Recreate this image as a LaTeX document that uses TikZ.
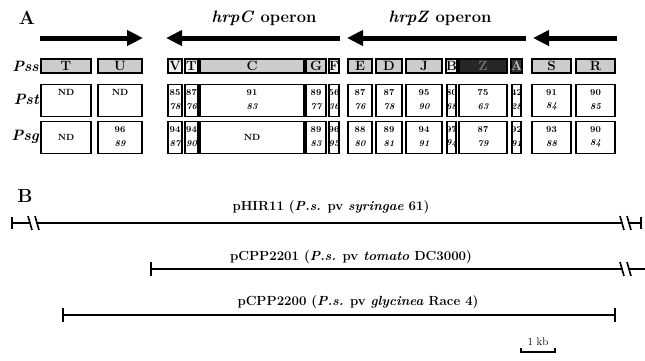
\documentclass[tikz,border=0pt]{standalone}
\usetikzlibrary{arrows.meta,calc}
\begin{document}
\begin{tikzpicture}[x=1pt,y=-1pt,
  bigarrow/.style={line width=5pt,-{Triangle[length=16pt,width=15pt]}},
  gene/.style={draw,line width=2pt,inner sep=0pt,minimum height=14.5pt,font=\fontsize{13.5}{13.5}\selectfont\bfseries},
  lt/.style={fill=black!20},
  wt/.style={fill=black!6},
  dk/.style={fill=black!85,text=black!55},
  dkA/.style={fill=black!80,text=black!25},
  cell/.style={draw,line width=1.3pt,inner sep=0pt,minimum height=32pt},
  num/.style={font=\fontsize{9}{9}\selectfont\bfseries,inner sep=0pt},
  inum/.style={font=\fontsize{9}{9}\selectfont\bfseries\itshape,inner sep=0pt},
  rowlab/.style={font=\fontsize{15}{15}\selectfont\bfseries\itshape,anchor=east,inner sep=0pt},
  panel/.style={font=\fontsize{19}{19}\selectfont\bfseries,inner sep=0pt},
  oplab/.style={font=\fontsize{16.5}{16.5}\selectfont\bfseries,inner sep=0pt},
  plab/.style={font=\fontsize{13.2}{13.2}\selectfont\bfseries,inner sep=0pt},
  mapline/.style={line width=2.2pt},
  tick/.style={line width=1.8pt},
  brk/.style={line width=1.6pt}
]
\useasboundingbox (0,0) rectangle (645,360);
\fill[white] (0,0) rectangle (645,360);

% ---- Panel A ----
\node[panel] (labA) at (27,18) {A};
\node[oplab] (hrpc) at (264,18) {\textit{hrpC} operon};
\node[oplab] (hrpz) at (440,18) {\textit{hrpZ} operon};

\coordinate (a1s) at (40,38);  \coordinate (a1e) at (143,38);
\coordinate (a2s) at (340,38); \coordinate (a2e) at (166,38);
\coordinate (a3s) at (526,38); \coordinate (a3e) at (347,38);
\coordinate (a4s) at (617,38); \coordinate (a4e) at (533,38);
\draw[bigarrow] (a1s) -- (a1e);
\draw[bigarrow] (a2s) -- (a2e);
\draw[bigarrow] (a3s) -- (a3e);
\draw[bigarrow] (a4s) -- (a4e);

\node[rowlab] (lpss) at (39,66) {Pss};
\node[rowlab] (lpst) at (39,99) {Pst};
\node[rowlab] (lpsg) at (39,137) {Psg};

\foreach \n/\a/\b/\l/\f in {T/40/92/T/lt, U/97/143/U/lt, V/167/183/V/wt, T2/184/199/T/wt,
  C/199/305/C/lt, G/305/327/G/lt, F/328/340/F/wt, E/347/373/E/lt, D/375/403/D/lt,
  J/405/443/J/lt, B/446/457/B/wt, Z/458/508/Z/dk, A/511/522/A/dkA, S/531/572/S/lt, R/575/616/R/lt}{
  \pgfmathsetmacro\w{\b-\a-2}
  \pgfmathsetmacro\ww{\b-\a-2.2}
  \pgfmathsetmacro\c{(\a+\b)/2}
  \node[gene,\f,minimum width=\w pt] (pss-\n) at (\c,66) {\l};
  \node[cell,minimum width=\ww pt] (pst-\n) at (\c,100.5) {};
  \node[cell,minimum width=\ww pt] (psg-\n) at (\c,137.5) {};
}

\foreach \n/\p/\q in {V/85/78, T2/87/76, C/91/83, G/89/77, F/56/36, E/87/76, D/87/78,
  J/95/90, B/80/68, Z/75/63, A/42/28, S/91/84, R/90/85}{
  \node[num] (pst-\n-t) at ($(pst-\n.north)+(0,9)$) {\p};
  \node[inum] (pst-\n-b) at ($(pst-\n.north)+(0,23)$) {\q};
}
\node[num] (pst-T-t) at ($(pst-T.north)+(0,9)$) {ND};
\node[num] (pst-U-t) at ($(pst-U.north)+(0,9)$) {ND};

\foreach \n/\p/\q in {U/96/89, V/94/87, T2/94/90, G/89/83, F/96/95, E/88/80, D/89/81,
  J/94/91, B/97/94, Z/87/79, A/92/91, S/93/88, R/90/84}{
  \node[num] (psg-\n-t) at ($(psg-\n.north)+(0,9)$) {\p};
  \node[inum] (psg-\n-b) at ($(psg-\n.north)+(0,23)$) {\q};
}
\node[num] (psg-T-t) at (psg-T.center) {ND};
\node[num] (psg-C-t) at (psg-C.center) {ND};

% ---- Panel B ----
\node[panel] (labB) at (25,196) {B};

\node[plab] (t1) at (331,207) {pHIR11 (\textit{P.s.} pv \textit{syringae} 61)};
\node[plab] (t2) at (351,257) {pCPP2201 (\textit{P.s.} pv \textit{tomato} DC3000)};
\node[plab] (t3) at (358,302) {pCPP2200 (\textit{P.s.} pv \textit{glycinea} Race 4)};

% pHIR11
\coordinate (h0) at (12,223); \coordinate (h1) at (31,223); \coordinate (h2) at (36,223);
\coordinate (h3) at (623,223); \coordinate (h4) at (628,223); \coordinate (h5) at (641,223);
\draw[tick] ($(h0)+(0,-6)$) -- ($(h0)+(0,6)$);
\draw[mapline] (h0) -- (h1);
\draw[mapline] (h2) -- (h3);
\draw[mapline] (h4) -- (h5);
\draw[tick] ($(h5)+(0,-6)$) -- ($(h5)+(0,6)$);
\draw[brk] ($(h1)+(-3,-7)$) -- ($(h1)+(1,7)$);
\draw[brk] ($(h2)+(-1,-7)$) -- ($(h2)+(3,7)$);
\draw[brk] ($(h3)+(-3,-7)$) -- ($(h3)+(1,7)$);
\draw[brk] ($(h4)+(-1,-7)$) -- ($(h4)+(3,7)$);

% pCPP2201
\coordinate (k0) at (151,269); \coordinate (k3) at (623,269); \coordinate (k4) at (628,269);
\coordinate (k5) at (645,269);
\draw[tick] ($(k0)+(0,-7)$) -- ($(k0)+(0,7)$);
\draw[mapline] (k0) -- (k3);
\draw[mapline] (k4) -- (k5);
\draw[brk] ($(k3)+(-3,-7)$) -- ($(k3)+(1,7)$);
\draw[brk] ($(k4)+(-1,-7)$) -- ($(k4)+(3,7)$);

% pCPP2200
\coordinate (g0) at (63,315); \coordinate (g1) at (615,315);
\draw[tick] ($(g0)+(0,-7)$) -- ($(g0)+(0,7)$);
\draw[line width=1.8pt] (g0) -- (g1);
\draw[tick] ($(g1)+(0,-7)$) -- ($(g1)+(0,7)$);

% scale bar
\node[font=\fontsize{11}{11}\selectfont,inner sep=0pt] (kb) at (538,342) {1 kb};
\coordinate (s0) at (521,352); \coordinate (s1) at (555,352);
\draw[line width=1.5pt] ($(s0)+(0,-4)$) -- (s0) -- (s1) -- ($(s1)+(0,-4)$);
\end{tikzpicture}
\end{document}
